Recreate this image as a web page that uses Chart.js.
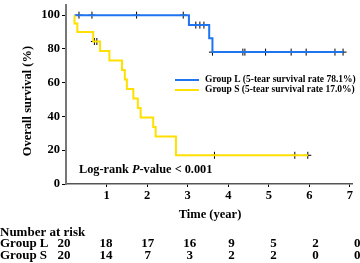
<!DOCTYPE html>
<html>
<head>
<meta charset="utf-8">
<script src="https://cdn.jsdelivr.net/npm/chart.js@4/dist/chart.umd.min.js"></script>
<style>
  html, body { margin: 0; padding: 0; background: #fff; }
  #wrap { width: 360px; height: 263px; }
</style>
</head>
<body>
<div id="wrap"><canvas id="km" width="360" height="263"></canvas></div>
<script>
// Kaplan-Meier curves
const groupLTimes = [0.21, 3.03, 3.53, 3.61, 6.84];
const groupLSurv = [100, 94.1, 86.3, 78.1, 78.1];
const groupLCensorT = [0.32, 0.64, 1.74, 2.89, 3.20, 3.30, 3.40, 3.61, 4.36, 4.41, 4.92, 5.55, 5.92, 6.63, 6.83];
const groupLCensorS = [100, 100, 100, 100, 94.1, 94.1, 94.1, 78.1, 78.1, 78.1, 78.1, 78.1, 78.1, 78.1, 78.1];

const groupSTimes = [0.21, 0.21, 0.28, 0.67, 0.84, 1.07, 1.38, 1.45, 1.50, 1.66, 1.77, 1.84, 2.15, 2.21, 2.71, 5.97];
const groupSSurv = [100, 95, 90, 84.4, 78.8, 73.1, 67.5, 61.9, 56.3, 50.6, 45.0, 39.4, 33.8, 28.1, 17.0, 17.0];
const groupSCensorT = [0.70, 0.76, 3.66, 5.64, 5.96];
const groupSCensorS = [84.4, 84.4, 17.0, 17.0, 17.0];

const xTicks = [1, 2, 3, 4, 5, 6, 7];
const yTicks = [0, 20, 40, 60, 80, 100];

const riskTimes = [0, 1, 2, 3, 4, 5, 6, 7];
const riskL = [20, 18, 17, 16, 9, 5, 2, 0];
const riskS = [20, 14, 7, 3, 2, 2, 0, 0];

const legendLabels = ['Group L (5-tear survival rate 78.1%)', 'Group S (5-tear survival rate 17.0%)'];
const blue = '#1f74f0';
const yellow = '#ffe000';
const serif = "'Liberation Serif', 'Times New Roman', serif";

function pts(xs, ys) {
    return xs.map((x, i) => ({ x: x, y: ys[i] }));
}

const extras = {
    id: 'extras',
    afterDraw(chart) {
        const ctx = chart.ctx;
        const xs = chart.scales.x;
        ctx.save();
        ctx.fillStyle = '#000';
        ctx.textBaseline = 'middle';

        // y title
        ctx.save();
        ctx.translate(28, 101);
        ctx.rotate(-Math.PI / 2);
        ctx.textAlign = 'center';
        ctx.font = 'bold 12.5px ' + serif;
        ctx.fillText('Overall survival (%)', 0, 0);
        ctx.restore();

        // x title
        ctx.textAlign = 'center';
        ctx.font = 'bold 12.5px ' + serif;
        ctx.fillText('Time (year)', 210, 215);

        // legend
        ctx.lineWidth = 2;
        [blue, yellow].forEach((c, i) => {
            const y = 80 + i * 10;
            ctx.strokeStyle = c;
            ctx.beginPath();
            ctx.moveTo(175, y);
            ctx.lineTo(199, y);
            ctx.stroke();
            ctx.textAlign = 'left';
            ctx.font = 'bold 9.5px ' + serif;
            ctx.fillText(legendLabels[i], 205, y);
        });

        // log-rank
        ctx.font = 'bold 12.3px ' + serif;
        ctx.textAlign = 'left';
        let x = 79;
        ctx.fillText('Log-rank ', x, 170);
        x += ctx.measureText('Log-rank ').width;
        ctx.font = 'italic bold 12.3px ' + serif;
        ctx.fillText('P', x, 170);
        x += ctx.measureText('P').width;
        ctx.font = 'bold 12.3px ' + serif;
        ctx.fillText('-value < 0.001', x, 170);

        // number at risk
        ctx.font = 'bold 13px ' + serif;
        ctx.fillText('Number at risk', 0, 233);
        ctx.fillText('Group L', 0, 244);
        ctx.fillText('Group S', 0, 256);
        ctx.textAlign = 'center';
        riskTimes.forEach((t, i) => {
            const px = xs.getPixelForValue(t * 1.033) - 2;
            ctx.fillText(String(riskL[i]), px, 244);
            ctx.fillText(String(riskS[i]), px, 256);
        });
        ctx.restore();
    }
};

new Chart(document.getElementById('km'), {
    type: 'line',
    data: {
        datasets: [
            { data: pts(groupSTimes, groupSSurv), borderColor: yellow, borderWidth: 2, stepped: 'before', pointRadius: 0, fill: false },
            { data: pts(groupLTimes, groupLSurv), borderColor: blue, borderWidth: 2, stepped: 'before', pointRadius: 0, fill: false },
            { data: pts(groupLCensorT, groupLCensorS), showLine: false, pointStyle: 'cross', pointRadius: 3.5, borderColor: '#000', borderWidth: 1 },
            { data: pts(groupSCensorT, groupSCensorS), showLine: false, pointStyle: 'cross', pointRadius: 3.5, borderColor: '#000', borderWidth: 1 }
        ]
    },
    options: {
        responsive: false,
        animation: false,
        layout: { padding: { top: 3, right: 8, left: 0, bottom: 0 } },
        plugins: { legend: { display: false }, tooltip: { enabled: false } },
        scales: {
            x: {
                type: 'linear',
                min: 0,
                max: 7.05,
                afterFit(s) { s.height = 79; s.paddingLeft = 0; s.paddingRight = 0; },
                afterBuildTicks(s) { s.ticks = xTicks.map(v => ({ value: v })); },
                ticks: { color: '#000', padding: 1, font: { family: serif, weight: 'bold', size: 12.5 } },
                grid: { drawOnChartArea: false, tickLength: 3, color: '#000' },
                border: { color: '#555', width: 1.5 }
            },
            y: {
                min: 0,
                max: 106,
                afterFit(s) { s.width = 66; s.paddingTop = 0; s.paddingBottom = 0; },
                afterBuildTicks(s) { s.ticks = yTicks.map(v => ({ value: v })); },
                ticks: { color: '#000', padding: 2, font: { family: serif, weight: 'bold', size: 12.5 } },
                grid: { drawOnChartArea: false, tickLength: 4, color: '#000' },
                border: { color: '#777', width: 2 }
            }
        }
    },
    plugins: [extras]
});
</script>
</body>
</html>
